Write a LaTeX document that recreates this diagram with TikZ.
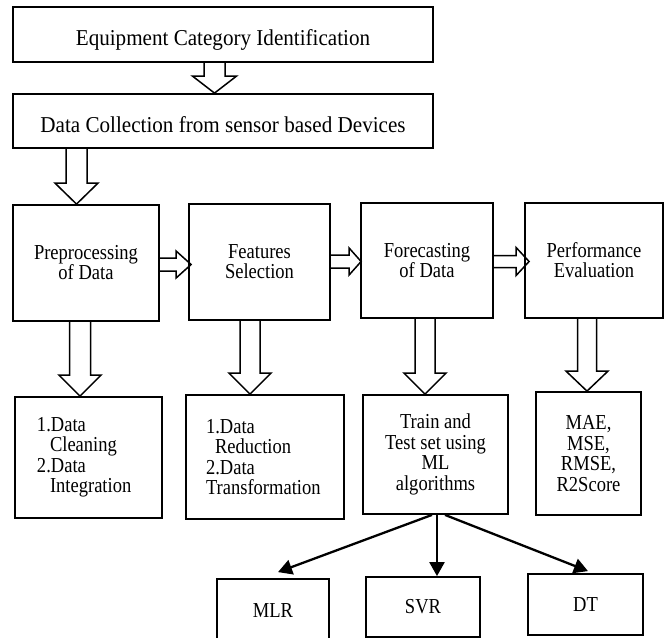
\documentclass[tikz,border=0pt]{standalone}
\usepackage{fontspec}
\setmainfont{Liberation Serif}
% narrow, tall serif used for the labels
\newfontfamily\boxserif[FakeStretch=0.87]{Liberation Serif}
\newfontfamily\headserif[FakeStretch=0.93]{Liberation Serif}
\usetikzlibrary{arrows.meta,calc}

% Hollow block arrow pointing down: source, target, x offset of the shaft
% from the source centre, shaft half width, head half width, head length
\newcommand{\vblock}[6]{%
  \draw[blockarrow] let \p1=($(#1.south)+(#3,0)$), \p2=(#2.north) in
    (\x1-#4,\y1) -- (\x1-#4,\y2+#6) -- (\x1-#5,\y2+#6) -- (\x1,\y2)
    -- (\x1+#5,\y2+#6) -- (\x1+#4,\y2+#6) -- (\x1+#4,\y1);}

% Hollow block arrow pointing right: source, target, y offset (downwards),
% shaft half width, head half width, head length, overshoot of the tip
\newcommand{\hblock}[7]{%
  \draw[blockarrow] let \p1=($(#1.east)+(0,#3)$), \p2=(#2.west) in
    (\x1,\y1+#4) -- (\x2+#7-#6,\y1+#4) -- (\x2+#7-#6,\y1+#5) -- (\x2+#7,\y1)
    -- (\x2+#7-#6,\y1-#5) -- (\x2+#7-#6,\y1-#4) -- (\x1,\y1-#4);}

\begin{document}
\begin{tikzpicture}[x=1pt, y=-1pt,
  flowbox/.style={draw, line width=1.8pt, inner sep=0pt},
  toptext/.style={font=\headserif\fontsize{22.7}{24}\selectfont, text height=22pt, text depth=0pt},
  midtext/.style={align=center, font=\boxserif\fontsize{21.3}{20}\selectfont},
  listtext/.style={align=left, font=\boxserif\fontsize{21.3}{20.5}\selectfont},
  lowtext/.style={align=center, font=\boxserif\fontsize{21.3}{20.5}\selectfont},
  blockarrow/.style={draw, line width=1.5pt, line join=miter},
  linearrow/.style={line width=2.3pt, -{Triangle[length=14pt,width=15pt]}},
]
\path[fill=white, use as bounding box] (0,0) rectangle (665,638);

% top stages
\node[flowbox, toptext, minimum width=420pt, minimum height=55pt] (equip) at (223,34.5)
  {Equipment Category Identification};
\node[flowbox, toptext, minimum width=420pt, minimum height=54pt] (collect) at (223,121)
  {Data Collection from sensor based Devices};

% main pipeline
\node[flowbox, midtext, minimum width=146pt, minimum height=116pt] (prep) at (86,263)
  {Preprocessing\\of Data};
\node[flowbox, midtext, minimum width=141pt, minimum height=116pt] (feat) at (259.5,262)
  {Features\\Selection};
\node[flowbox, midtext, minimum width=132pt, minimum height=115pt] (fcst) at (427,260.5)
  {Forecasting\\of Data};
\node[flowbox, midtext, minimum width=138pt, minimum height=115pt] (perf) at (594,260.5)
  {Performance\\Evaluation};

% details of each stage
\node[flowbox, listtext, text width=103pt, minimum width=147pt, minimum height=121pt] (clean) at (88.5,457.5)
  {1.Data\\\hspace*{13pt}Cleaning\\2.Data\\\hspace*{13pt}Integration};
\node[flowbox, listtext, text width=118pt, minimum width=158pt, minimum height=124pt] (reduce) at (265,457)
  {1.Data\\\hspace*{9pt}Reduction\\2.Data\\Transformation};
\node[flowbox, lowtext, minimum width=145pt, minimum height=119pt] (train) at (435.5,454.5)
  {Train and\\Test set using\\ML\\algorithms};
\node[flowbox, lowtext, minimum width=105pt, minimum height=123pt] (metric) at (588.5,453.5)
  {MAE,\\MSE,\\RMSE,\\R2Score};

% models
\node[flowbox, midtext, minimum width=112pt, minimum height=63pt] (mlr) at (273,610.5) {MLR};
\node[flowbox, midtext, minimum width=114pt, minimum height=60pt] (svr) at (423,607) {SVR};
\node[flowbox, midtext, minimum width=115pt, minimum height=61pt] (dt) at (585.5,604.5) {DT};

% block arrows
\vblock{equip}{collect}{-8.5}{10.5}{22}{17}
\vblock{collect}{prep}{-146.5}{10.5}{21.5}{21}
\hblock{prep}{feat}{1.5}{6.5}{13.5}{15}{3}
\hblock{feat}{fcst}{-0.5}{6.5}{13.5}{12}{1}
\hblock{fcst}{perf}{1}{6}{14}{13}{5}
\vblock{prep}{clean}{-6}{10.5}{21}{21}
\vblock{feat}{reduce}{-9.5}{10}{21}{21}
\vblock{fcst}{train}{-2}{10}{21}{21}
\vblock{perf}{metric}{-7}{9.5}{21}{20}

% arrows to the models
\draw[linearrow] ([xshift=-3.5pt]train.south) -- ([xshift=5pt,yshift=6pt]mlr.north);
\draw[linearrow] ([xshift=1.5pt]train.south) -- ([xshift=14pt]svr.north);
\draw[linearrow] ([xshift=9.5pt]train.south) -- ([xshift=2.5pt,yshift=2pt]dt.north);
\end{tikzpicture}
\end{document}
